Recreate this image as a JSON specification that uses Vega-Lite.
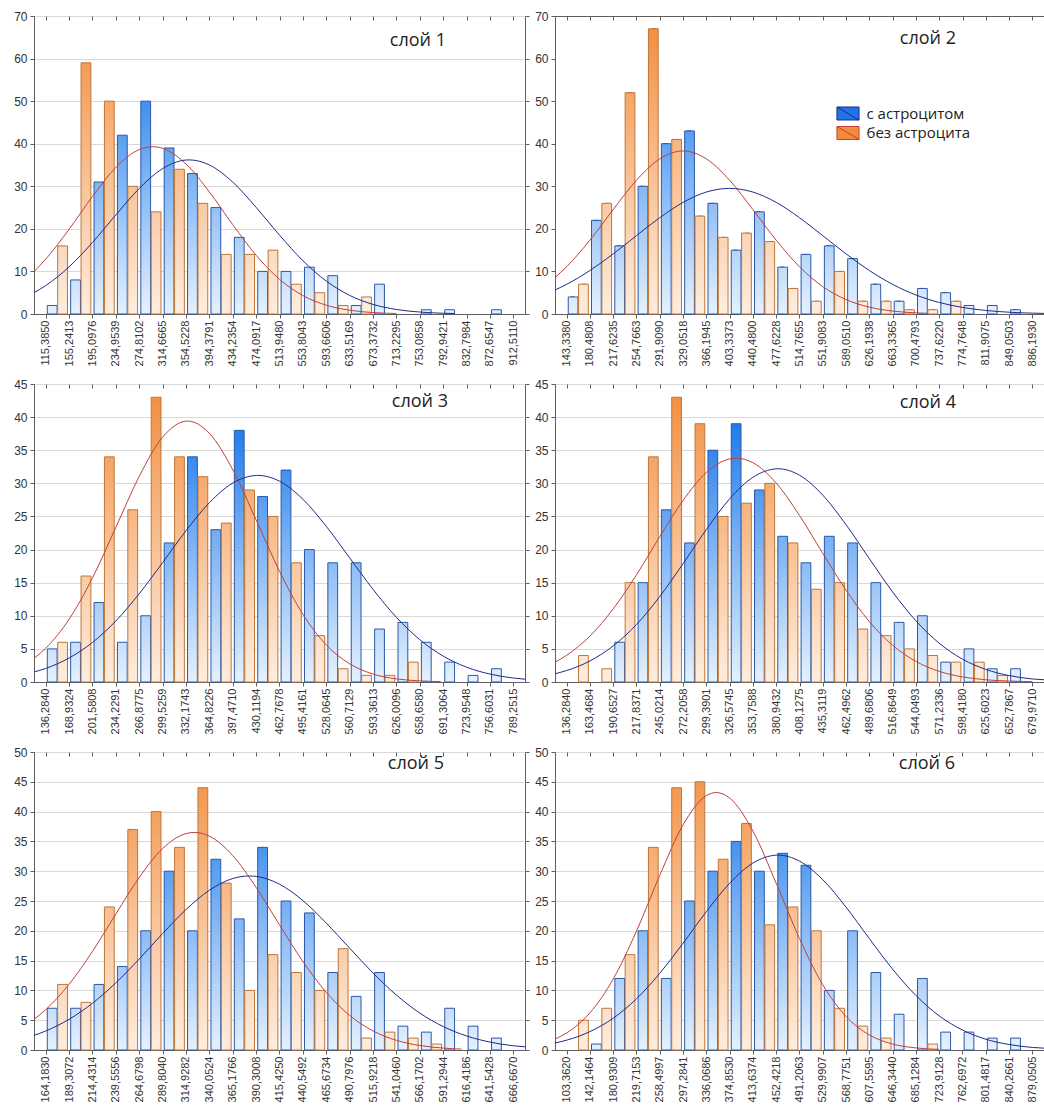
{
"$schema": "https://vega.github.io/schema/vega-lite/v6.json",
"background": "white",
"padding": {"left": 13, "top": 9, "right": 0, "bottom": 0},
"columns": 2,
"spacing": {"row": 70, "column": 30},
"bounds": "flush",
"resolve": {"scale": {"x": "independent", "y": "independent", "fill": "independent", "stroke": "independent"}},
"datasets": {
"bars": [
{"p":1,"g":"b","x0":115.39,"x1":135.31,"n":2},{"p":1,"g":"b","x0":155.24,"x1":175.17,"n":8},{"p":1,"g":"b","x0":195.10,"x1":215.03,"n":31},{"p":1,"g":"b","x0":234.95,"x1":254.88,"n":42},{"p":1,"g":"b","x0":274.81,"x1":294.74,"n":50},{"p":1,"g":"b","x0":314.67,"x1":334.59,"n":39},{"p":1,"g":"b","x0":354.52,"x1":374.45,"n":33},{"p":1,"g":"b","x0":394.38,"x1":414.31,"n":25},{"p":1,"g":"b","x0":434.24,"x1":454.16,"n":18},{"p":1,"g":"b","x0":474.09,"x1":494.02,"n":10},{"p":1,"g":"b","x0":513.95,"x1":533.88,"n":10},{"p":1,"g":"b","x0":553.80,"x1":573.73,"n":11},{"p":1,"g":"b","x0":593.66,"x1":613.59,"n":9},{"p":1,"g":"b","x0":633.52,"x1":653.45,"n":2},{"p":1,"g":"b","x0":673.37,"x1":693.30,"n":7},{"p":1,"g":"b","x0":753.09,"x1":773.01,"n":1},{"p":1,"g":"b","x0":792.94,"x1":812.87,"n":1},{"p":1,"g":"b","x0":872.65,"x1":892.58,"n":1},
{"p":1,"g":"o","x0":135.31,"x1":155.24,"n":16},{"p":1,"g":"o","x0":175.17,"x1":195.10,"n":59},{"p":1,"g":"o","x0":215.03,"x1":234.95,"n":50},{"p":1,"g":"o","x0":254.88,"x1":274.81,"n":30},{"p":1,"g":"o","x0":294.74,"x1":314.67,"n":24},{"p":1,"g":"o","x0":334.59,"x1":354.52,"n":34},{"p":1,"g":"o","x0":374.45,"x1":394.38,"n":26},{"p":1,"g":"o","x0":414.31,"x1":434.24,"n":14},{"p":1,"g":"o","x0":454.16,"x1":474.09,"n":14},{"p":1,"g":"o","x0":494.02,"x1":513.95,"n":15},{"p":1,"g":"o","x0":533.88,"x1":553.80,"n":7},{"p":1,"g":"o","x0":573.73,"x1":593.66,"n":5},{"p":1,"g":"o","x0":613.59,"x1":633.52,"n":2},{"p":1,"g":"o","x0":653.45,"x1":673.37,"n":4},
{"p":2,"g":"b","x0":143.34,"x1":161.91,"n":4},{"p":2,"g":"b","x0":180.48,"x1":199.05,"n":22},{"p":2,"g":"b","x0":217.62,"x1":236.19,"n":16},{"p":2,"g":"b","x0":254.77,"x1":273.34,"n":30},{"p":2,"g":"b","x0":291.91,"x1":310.48,"n":40},{"p":2,"g":"b","x0":329.05,"x1":347.62,"n":43},{"p":2,"g":"b","x0":366.19,"x1":384.77,"n":26},{"p":2,"g":"b","x0":403.34,"x1":421.91,"n":15},{"p":2,"g":"b","x0":440.48,"x1":459.05,"n":24},{"p":2,"g":"b","x0":477.62,"x1":496.19,"n":11},{"p":2,"g":"b","x0":514.77,"x1":533.34,"n":14},{"p":2,"g":"b","x0":551.91,"x1":570.48,"n":16},{"p":2,"g":"b","x0":589.05,"x1":607.62,"n":13},{"p":2,"g":"b","x0":626.19,"x1":644.77,"n":7},{"p":2,"g":"b","x0":663.34,"x1":681.91,"n":3},{"p":2,"g":"b","x0":700.48,"x1":719.05,"n":6},{"p":2,"g":"b","x0":737.62,"x1":756.19,"n":5},{"p":2,"g":"b","x0":774.76,"x1":793.34,"n":2},{"p":2,"g":"b","x0":811.91,"x1":830.48,"n":2},{"p":2,"g":"b","x0":849.05,"x1":867.62,"n":1},
{"p":2,"g":"o","x0":161.91,"x1":180.48,"n":7},{"p":2,"g":"o","x0":199.05,"x1":217.62,"n":26},{"p":2,"g":"o","x0":236.19,"x1":254.77,"n":52},{"p":2,"g":"o","x0":273.34,"x1":291.91,"n":67},{"p":2,"g":"o","x0":310.48,"x1":329.05,"n":41},{"p":2,"g":"o","x0":347.62,"x1":366.19,"n":23},{"p":2,"g":"o","x0":384.77,"x1":403.34,"n":18},{"p":2,"g":"o","x0":421.91,"x1":440.48,"n":19},{"p":2,"g":"o","x0":459.05,"x1":477.62,"n":17},{"p":2,"g":"o","x0":496.19,"x1":514.77,"n":6},{"p":2,"g":"o","x0":533.34,"x1":551.91,"n":3},{"p":2,"g":"o","x0":570.48,"x1":589.05,"n":10},{"p":2,"g":"o","x0":607.62,"x1":626.19,"n":3},{"p":2,"g":"o","x0":644.77,"x1":663.34,"n":3},{"p":2,"g":"o","x0":681.91,"x1":700.48,"n":1},{"p":2,"g":"o","x0":719.05,"x1":737.62,"n":1},{"p":2,"g":"o","x0":756.19,"x1":774.76,"n":3},
{"p":3,"g":"b","x0":136.28,"x1":152.61,"n":5},{"p":3,"g":"b","x0":168.93,"x1":185.26,"n":6},{"p":3,"g":"b","x0":201.58,"x1":217.91,"n":12},{"p":3,"g":"b","x0":234.23,"x1":250.55,"n":6},{"p":3,"g":"b","x0":266.88,"x1":283.20,"n":10},{"p":3,"g":"b","x0":299.53,"x1":315.85,"n":21},{"p":3,"g":"b","x0":332.17,"x1":348.50,"n":34},{"p":3,"g":"b","x0":364.82,"x1":381.15,"n":23},{"p":3,"g":"b","x0":397.47,"x1":413.80,"n":38},{"p":3,"g":"b","x0":430.12,"x1":446.44,"n":28},{"p":3,"g":"b","x0":462.77,"x1":479.09,"n":32},{"p":3,"g":"b","x0":495.42,"x1":511.74,"n":20},{"p":3,"g":"b","x0":528.06,"x1":544.39,"n":18},{"p":3,"g":"b","x0":560.71,"x1":577.04,"n":18},{"p":3,"g":"b","x0":593.36,"x1":609.69,"n":8},{"p":3,"g":"b","x0":626.01,"x1":642.33,"n":9},{"p":3,"g":"b","x0":658.66,"x1":674.98,"n":6},{"p":3,"g":"b","x0":691.31,"x1":707.63,"n":3},{"p":3,"g":"b","x0":723.95,"x1":740.28,"n":1},{"p":3,"g":"b","x0":756.60,"x1":772.93,"n":2},
{"p":3,"g":"o","x0":152.61,"x1":168.93,"n":6},{"p":3,"g":"o","x0":185.26,"x1":201.58,"n":16},{"p":3,"g":"o","x0":217.91,"x1":234.23,"n":34},{"p":3,"g":"o","x0":250.55,"x1":266.88,"n":26},{"p":3,"g":"o","x0":283.20,"x1":299.53,"n":43},{"p":3,"g":"o","x0":315.85,"x1":332.17,"n":34},{"p":3,"g":"o","x0":348.50,"x1":364.82,"n":31},{"p":3,"g":"o","x0":381.15,"x1":397.47,"n":24},{"p":3,"g":"o","x0":413.80,"x1":430.12,"n":29},{"p":3,"g":"o","x0":446.44,"x1":462.77,"n":25},{"p":3,"g":"o","x0":479.09,"x1":495.42,"n":18},{"p":3,"g":"o","x0":511.74,"x1":528.06,"n":7},{"p":3,"g":"o","x0":544.39,"x1":560.71,"n":2},{"p":3,"g":"o","x0":577.04,"x1":593.36,"n":1},{"p":3,"g":"o","x0":609.69,"x1":626.01,"n":1},{"p":3,"g":"o","x0":642.33,"x1":658.66,"n":3},
{"p":4,"g":"b","x0":190.65,"x1":204.24,"n":6},{"p":4,"g":"b","x0":217.84,"x1":231.43,"n":15},{"p":4,"g":"b","x0":245.02,"x1":258.61,"n":26},{"p":4,"g":"b","x0":272.21,"x1":285.80,"n":21},{"p":4,"g":"b","x0":299.39,"x1":312.98,"n":35},{"p":4,"g":"b","x0":326.57,"x1":340.17,"n":39},{"p":4,"g":"b","x0":353.76,"x1":367.35,"n":29},{"p":4,"g":"b","x0":380.94,"x1":394.54,"n":22},{"p":4,"g":"b","x0":408.13,"x1":421.72,"n":18},{"p":4,"g":"b","x0":435.31,"x1":448.90,"n":22},{"p":4,"g":"b","x0":462.50,"x1":476.09,"n":21},{"p":4,"g":"b","x0":489.68,"x1":503.27,"n":15},{"p":4,"g":"b","x0":516.86,"x1":530.46,"n":9},{"p":4,"g":"b","x0":544.05,"x1":557.64,"n":10},{"p":4,"g":"b","x0":571.23,"x1":584.83,"n":3},{"p":4,"g":"b","x0":598.42,"x1":612.01,"n":5},{"p":4,"g":"b","x0":625.60,"x1":639.19,"n":2},{"p":4,"g":"b","x0":652.79,"x1":666.38,"n":2},
{"p":4,"g":"o","x0":149.88,"x1":163.47,"n":4},{"p":4,"g":"o","x0":177.06,"x1":190.65,"n":2},{"p":4,"g":"o","x0":204.24,"x1":217.84,"n":15},{"p":4,"g":"o","x0":231.43,"x1":245.02,"n":34},{"p":4,"g":"o","x0":258.61,"x1":272.21,"n":43},{"p":4,"g":"o","x0":285.80,"x1":299.39,"n":39},{"p":4,"g":"o","x0":312.98,"x1":326.57,"n":25},{"p":4,"g":"o","x0":340.17,"x1":353.76,"n":27},{"p":4,"g":"o","x0":367.35,"x1":380.94,"n":30},{"p":4,"g":"o","x0":394.54,"x1":408.13,"n":21},{"p":4,"g":"o","x0":421.72,"x1":435.31,"n":14},{"p":4,"g":"o","x0":448.90,"x1":462.50,"n":15},{"p":4,"g":"o","x0":476.09,"x1":489.68,"n":8},{"p":4,"g":"o","x0":503.27,"x1":516.86,"n":7},{"p":4,"g":"o","x0":530.46,"x1":544.05,"n":5},{"p":4,"g":"o","x0":557.64,"x1":571.23,"n":4},{"p":4,"g":"o","x0":584.83,"x1":598.42,"n":3},{"p":4,"g":"o","x0":612.01,"x1":625.60,"n":3},{"p":4,"g":"o","x0":639.19,"x1":652.79,"n":1},
{"p":5,"g":"b","x0":164.18,"x1":176.75,"n":7},{"p":5,"g":"b","x0":189.31,"x1":201.87,"n":7},{"p":5,"g":"b","x0":214.43,"x1":226.99,"n":11},{"p":5,"g":"b","x0":239.56,"x1":252.12,"n":14},{"p":5,"g":"b","x0":264.68,"x1":277.24,"n":20},{"p":5,"g":"b","x0":289.80,"x1":302.37,"n":30},{"p":5,"g":"b","x0":314.93,"x1":327.49,"n":20},{"p":5,"g":"b","x0":340.05,"x1":352.61,"n":32},{"p":5,"g":"b","x0":365.18,"x1":377.74,"n":22},{"p":5,"g":"b","x0":390.30,"x1":402.86,"n":34},{"p":5,"g":"b","x0":415.43,"x1":427.99,"n":25},{"p":5,"g":"b","x0":440.55,"x1":453.11,"n":23},{"p":5,"g":"b","x0":465.67,"x1":478.24,"n":13},{"p":5,"g":"b","x0":490.80,"x1":503.36,"n":9},{"p":5,"g":"b","x0":515.92,"x1":528.48,"n":13},{"p":5,"g":"b","x0":541.05,"x1":553.61,"n":4},{"p":5,"g":"b","x0":566.17,"x1":578.73,"n":3},{"p":5,"g":"b","x0":591.29,"x1":603.86,"n":7},{"p":5,"g":"b","x0":616.42,"x1":628.98,"n":4},{"p":5,"g":"b","x0":641.54,"x1":654.10,"n":2},
{"p":5,"g":"o","x0":176.75,"x1":189.31,"n":11},{"p":5,"g":"o","x0":201.87,"x1":214.43,"n":8},{"p":5,"g":"o","x0":226.99,"x1":239.56,"n":24},{"p":5,"g":"o","x0":252.12,"x1":264.68,"n":37},{"p":5,"g":"o","x0":277.24,"x1":289.80,"n":40},{"p":5,"g":"o","x0":302.37,"x1":314.93,"n":34},{"p":5,"g":"o","x0":327.49,"x1":340.05,"n":44},{"p":5,"g":"o","x0":352.61,"x1":365.18,"n":28},{"p":5,"g":"o","x0":377.74,"x1":390.30,"n":10},{"p":5,"g":"o","x0":402.86,"x1":415.43,"n":16},{"p":5,"g":"o","x0":427.99,"x1":440.55,"n":13},{"p":5,"g":"o","x0":453.11,"x1":465.67,"n":10},{"p":5,"g":"o","x0":478.24,"x1":490.80,"n":17},{"p":5,"g":"o","x0":503.36,"x1":515.92,"n":2},{"p":5,"g":"o","x0":528.48,"x1":541.05,"n":3},{"p":5,"g":"o","x0":553.61,"x1":566.17,"n":2},{"p":5,"g":"o","x0":578.73,"x1":591.29,"n":1},
{"p":6,"g":"b","x0":142.15,"x1":161.54,"n":1},{"p":6,"g":"b","x0":180.93,"x1":200.32,"n":12},{"p":6,"g":"b","x0":219.72,"x1":239.11,"n":20},{"p":6,"g":"b","x0":258.50,"x1":277.89,"n":12},{"p":6,"g":"b","x0":297.28,"x1":316.68,"n":25},{"p":6,"g":"b","x0":336.07,"x1":355.46,"n":30},{"p":6,"g":"b","x0":374.85,"x1":394.25,"n":35},{"p":6,"g":"b","x0":413.64,"x1":433.03,"n":30},{"p":6,"g":"b","x0":452.42,"x1":471.81,"n":33},{"p":6,"g":"b","x0":491.21,"x1":510.60,"n":31},{"p":6,"g":"b","x0":529.99,"x1":549.38,"n":10},{"p":6,"g":"b","x0":568.78,"x1":588.17,"n":20},{"p":6,"g":"b","x0":607.56,"x1":626.95,"n":13},{"p":6,"g":"b","x0":646.34,"x1":665.74,"n":6},{"p":6,"g":"b","x0":685.13,"x1":704.52,"n":12},{"p":6,"g":"b","x0":723.91,"x1":743.31,"n":3},{"p":6,"g":"b","x0":762.70,"x1":782.09,"n":3},{"p":6,"g":"b","x0":801.48,"x1":820.87,"n":2},{"p":6,"g":"b","x0":840.27,"x1":859.66,"n":2},
{"p":6,"g":"o","x0":122.75,"x1":142.15,"n":5},{"p":6,"g":"o","x0":161.54,"x1":180.93,"n":7},{"p":6,"g":"o","x0":200.32,"x1":219.72,"n":16},{"p":6,"g":"o","x0":239.11,"x1":258.50,"n":34},{"p":6,"g":"o","x0":277.89,"x1":297.28,"n":44},{"p":6,"g":"o","x0":316.68,"x1":336.07,"n":45},{"p":6,"g":"o","x0":355.46,"x1":374.85,"n":32},{"p":6,"g":"o","x0":394.25,"x1":413.64,"n":38},{"p":6,"g":"o","x0":433.03,"x1":452.42,"n":21},{"p":6,"g":"o","x0":471.81,"x1":491.21,"n":24},{"p":6,"g":"o","x0":510.60,"x1":529.99,"n":20},{"p":6,"g":"o","x0":549.38,"x1":568.78,"n":7},{"p":6,"g":"o","x0":588.17,"x1":607.56,"n":4},{"p":6,"g":"o","x0":626.95,"x1":646.34,"n":2},{"p":6,"g":"o","x0":704.52,"x1":723.91,"n":1}
],
"curves": [
{"p":1,"g":"o","x":95.46,"y":9.96},{"p":1,"g":"o","x":115.39,"y":12.88},{"p":1,"g":"o","x":155.24,"y":19.89},{"p":1,"g":"o","x":195.10,"y":27.61},{"p":1,"g":"o","x":234.95,"y":34.45},{"p":1,"g":"o","x":274.81,"y":38.62},{"p":1,"g":"o","x":297.6,"y":39.3},{"p":1,"g":"o","x":314.67,"y":38.92},{"p":1,"g":"o","x":354.52,"y":35.24},{"p":1,"g":"o","x":394.38,"y":28.69},{"p":1,"g":"o","x":434.24,"y":20.99},{"p":1,"g":"o","x":474.09,"y":13.80},{"p":1,"g":"o","x":513.95,"y":8.15},{"p":1,"g":"o","x":553.80,"y":4.33},{"p":1,"g":"o","x":593.66,"y":2.07},{"p":1,"g":"o","x":633.52,"y":0.89},{"p":1,"g":"o","x":673.37,"y":0.34},{"p":1,"g":"o","x":713.23,"y":0.12},
{"p":1,"g":"b","x":95.46,"y":5.01},{"p":1,"g":"b","x":115.39,"y":6.67},{"p":1,"g":"b","x":155.24,"y":11.07},{"p":1,"g":"b","x":195.10,"y":16.79},{"p":1,"g":"b","x":234.95,"y":23.27},{"p":1,"g":"b","x":274.81,"y":29.49},{"p":1,"g":"b","x":314.67,"y":34.16},{"p":1,"g":"b","x":354.52,"y":36.17},{"p":1,"g":"b","x":360,"y":36.2},{"p":1,"g":"b","x":394.38,"y":35.01},{"p":1,"g":"b","x":434.24,"y":30.98},{"p":1,"g":"b","x":474.09,"y":25.06},{"p":1,"g":"b","x":513.95,"y":18.53},{"p":1,"g":"b","x":553.80,"y":12.52},{"p":1,"g":"b","x":593.66,"y":7.74},{"p":1,"g":"b","x":633.52,"y":4.37},{"p":1,"g":"b","x":673.37,"y":2.26},{"p":1,"g":"b","x":713.23,"y":1.06},{"p":1,"g":"b","x":753.09,"y":0.46},{"p":1,"g":"b","x":792.94,"y":0.18},{"p":1,"g":"b","x":812,"y":0.12},
{"p":2,"g":"o","x":124.77,"y":8.56},{"p":2,"g":"o","x":143.34,"y":11.11},{"p":2,"g":"o","x":180.48,"y":17.35},{"p":2,"g":"o","x":217.62,"y":24.54},{"p":2,"g":"o","x":254.77,"y":31.43},{"p":2,"g":"o","x":291.91,"y":36.45},{"p":2,"g":"o","x":329.05,"y":38.30},{"p":2,"g":"o","x":366.19,"y":36.44},{"p":2,"g":"o","x":403.34,"y":31.41},{"p":2,"g":"o","x":440.48,"y":24.51},{"p":2,"g":"o","x":477.62,"y":17.33},{"p":2,"g":"o","x":514.77,"y":11.09},{"p":2,"g":"o","x":551.91,"y":6.43},{"p":2,"g":"o","x":589.05,"y":3.38},{"p":2,"g":"o","x":626.19,"y":1.61},{"p":2,"g":"o","x":663.34,"y":0.69},{"p":2,"g":"o","x":700.48,"y":0.27},{"p":2,"g":"o","x":720,"y":0.15},
{"p":2,"g":"b","x":124.77,"y":5.63},{"p":2,"g":"b","x":143.34,"y":6.97},{"p":2,"g":"b","x":180.48,"y":10.22},{"p":2,"g":"b","x":217.62,"y":14.12},{"p":2,"g":"b","x":254.77,"y":18.42},{"p":2,"g":"b","x":291.91,"y":22.63},{"p":2,"g":"b","x":329.05,"y":26.22},{"p":2,"g":"b","x":366.19,"y":28.65},{"p":2,"g":"b","x":403.34,"y":29.50},{"p":2,"g":"b","x":440.48,"y":28.64},{"p":2,"g":"b","x":477.62,"y":26.22},{"p":2,"g":"b","x":514.77,"y":22.62},{"p":2,"g":"b","x":551.91,"y":18.40},{"p":2,"g":"b","x":589.05,"y":14.12},{"p":2,"g":"b","x":626.19,"y":10.21},{"p":2,"g":"b","x":663.34,"y":6.96},{"p":2,"g":"b","x":700.48,"y":4.47},{"p":2,"g":"b","x":737.62,"y":2.71},{"p":2,"g":"b","x":774.76,"y":1.55},{"p":2,"g":"b","x":811.91,"y":0.83},{"p":2,"g":"b","x":849.05,"y":0.42},{"p":2,"g":"b","x":886.19,"y":0.20},{"p":2,"g":"b","x":904.76,"y":0.14},
{"p":3,"g":"o","x":119.96,"y":3.59},{"p":3,"g":"o","x":136.28,"y":5.10},{"p":3,"g":"o","x":168.93,"y":9.46},{"p":3,"g":"o","x":201.58,"y":15.71},{"p":3,"g":"o","x":234.23,"y":23.35},{"p":3,"g":"o","x":266.88,"y":31.05},{"p":3,"g":"o","x":299.53,"y":36.97},{"p":3,"g":"o","x":332.17,"y":39.39},{"p":3,"g":"o","x":334.5,"y":39.4},{"p":3,"g":"o","x":364.82,"y":37.56},{"p":3,"g":"o","x":397.47,"y":32.05},{"p":3,"g":"o","x":430.12,"y":24.48},{"p":3,"g":"o","x":462.77,"y":16.73},{"p":3,"g":"o","x":495.42,"y":10.23},{"p":3,"g":"o","x":528.06,"y":5.60},{"p":3,"g":"o","x":560.71,"y":2.75},{"p":3,"g":"o","x":593.36,"y":1.20},{"p":3,"g":"o","x":626.01,"y":0.47},{"p":3,"g":"o","x":658.66,"y":0.17},{"p":3,"g":"o","x":688,"y":0.06},
{"p":3,"g":"b","x":119.96,"y":1.51},{"p":3,"g":"b","x":136.28,"y":2.05},{"p":3,"g":"b","x":168.93,"y":3.62},{"p":3,"g":"b","x":201.58,"y":5.97},{"p":3,"g":"b","x":234.23,"y":9.22},{"p":3,"g":"b","x":266.88,"y":13.33},{"p":3,"g":"b","x":299.53,"y":18.03},{"p":3,"g":"b","x":332.17,"y":22.84},{"p":3,"g":"b","x":364.82,"y":27.07},{"p":3,"g":"b","x":397.47,"y":30.04},{"p":3,"g":"b","x":430.12,"y":31.19},{"p":3,"g":"b","x":432.5,"y":31.2},{"p":3,"g":"b","x":462.77,"y":30.33},{"p":3,"g":"b","x":495.42,"y":27.60},{"p":3,"g":"b","x":528.06,"y":23.51},{"p":3,"g":"b","x":560.71,"y":18.75},{"p":3,"g":"b","x":593.36,"y":13.99},{"p":3,"g":"b","x":626.01,"y":9.77},{"p":3,"g":"b","x":658.66,"y":6.39},{"p":3,"g":"b","x":691.31,"y":3.91},{"p":3,"g":"b","x":723.95,"y":2.24},{"p":3,"g":"b","x":756.60,"y":1.20},{"p":3,"g":"b","x":789.25,"y":0.60},{"p":3,"g":"b","x":805.58,"y":0.42},
{"p":4,"g":"o","x":122.69,"y":2.98},{"p":4,"g":"o","x":136.28,"y":4.03},{"p":4,"g":"o","x":163.47,"y":6.94},{"p":4,"g":"o","x":190.65,"y":11.04},{"p":4,"g":"o","x":217.84,"y":16.19},{"p":4,"g":"o","x":245.02,"y":21.94},{"p":4,"g":"o","x":272.21,"y":27.42},{"p":4,"g":"o","x":299.39,"y":31.64},{"p":4,"g":"o","x":326.57,"y":33.69},{"p":4,"g":"o","x":334.3,"y":33.8},{"p":4,"g":"o","x":353.76,"y":33.11},{"p":4,"g":"o","x":380.94,"y":30.04},{"p":4,"g":"o","x":408.13,"y":25.15},{"p":4,"g":"o","x":435.31,"y":19.43},{"p":4,"g":"o","x":462.50,"y":13.86},{"p":4,"g":"o","x":489.68,"y":9.12},{"p":4,"g":"o","x":516.86,"y":5.54},{"p":4,"g":"o","x":544.05,"y":3.11},{"p":4,"g":"o","x":571.23,"y":1.61},{"p":4,"g":"o","x":598.42,"y":0.77},{"p":4,"g":"o","x":625.60,"y":0.34},{"p":4,"g":"o","x":652.79,"y":0.14},{"p":4,"g":"o","x":679.97,"y":0.05},
{"p":4,"g":"b","x":122.69,"y":1.24},{"p":4,"g":"b","x":136.28,"y":1.73},{"p":4,"g":"b","x":163.47,"y":3.18},{"p":4,"g":"b","x":190.65,"y":5.45},{"p":4,"g":"b","x":217.84,"y":8.69},{"p":4,"g":"b","x":245.02,"y":12.91},{"p":4,"g":"b","x":272.21,"y":17.87},{"p":4,"g":"b","x":299.39,"y":23.03},{"p":4,"g":"b","x":326.57,"y":27.65},{"p":4,"g":"b","x":353.76,"y":30.91},{"p":4,"g":"b","x":380.94,"y":32.19},{"p":4,"g":"b","x":382.9,"y":32.2},{"p":4,"g":"b","x":408.13,"y":31.23},{"p":4,"g":"b","x":435.31,"y":28.22},{"p":4,"g":"b","x":462.50,"y":23.75},{"p":4,"g":"b","x":489.68,"y":18.62},{"p":4,"g":"b","x":516.86,"y":13.60},{"p":4,"g":"b","x":544.05,"y":9.24},{"p":4,"g":"b","x":571.23,"y":5.86},{"p":4,"g":"b","x":598.42,"y":3.45},{"p":4,"g":"b","x":625.60,"y":1.90},{"p":4,"g":"b","x":652.79,"y":0.97},{"p":4,"g":"b","x":679.97,"y":0.46},{"p":4,"g":"b","x":693.56,"y":0.34},
{"p":5,"g":"o","x":151.62,"y":5.14},{"p":5,"g":"o","x":164.18,"y":6.77},{"p":5,"g":"o","x":189.31,"y":11.03},{"p":5,"g":"o","x":214.43,"y":16.54},{"p":5,"g":"o","x":239.56,"y":22.81},{"p":5,"g":"o","x":264.68,"y":28.95},{"p":5,"g":"o","x":289.80,"y":33.80},{"p":5,"g":"o","x":314.93,"y":36.31},{"p":5,"g":"o","x":323.9,"y":36.5},{"p":5,"g":"o","x":340.05,"y":35.88},{"p":5,"g":"o","x":365.18,"y":32.62},{"p":5,"g":"o","x":390.30,"y":27.28},{"p":5,"g":"o","x":415.43,"y":20.99},{"p":5,"g":"o","x":440.55,"y":14.86},{"p":5,"g":"o","x":465.67,"y":9.68},{"p":5,"g":"o","x":490.80,"y":5.80},{"p":5,"g":"o","x":515.92,"y":3.20},{"p":5,"g":"o","x":541.05,"y":1.62},{"p":5,"g":"o","x":566.17,"y":0.76},{"p":5,"g":"o","x":591.29,"y":0.32},{"p":5,"g":"o","x":611,"y":0.15},
{"p":5,"g":"b","x":151.62,"y":2.45},{"p":5,"g":"b","x":164.18,"y":3.19},{"p":5,"g":"b","x":189.31,"y":5.15},{"p":5,"g":"b","x":214.43,"y":7.84},{"p":5,"g":"b","x":239.56,"y":11.27},{"p":5,"g":"b","x":264.68,"y":15.27},{"p":5,"g":"b","x":289.80,"y":19.53},{"p":5,"g":"b","x":314.93,"y":23.56},{"p":5,"g":"b","x":340.05,"y":26.80},{"p":5,"g":"b","x":365.18,"y":28.77},{"p":5,"g":"b","x":383.1,"y":29.2},{"p":5,"g":"b","x":390.30,"y":29.13},{"p":5,"g":"b","x":415.43,"y":27.82},{"p":5,"g":"b","x":440.55,"y":25.07},{"p":5,"g":"b","x":465.67,"y":21.30},{"p":5,"g":"b","x":490.80,"y":17.08},{"p":5,"g":"b","x":515.92,"y":12.92},{"p":5,"g":"b","x":541.05,"y":9.22},{"p":5,"g":"b","x":566.17,"y":6.20},{"p":5,"g":"b","x":591.29,"y":3.94},{"p":5,"g":"b","x":616.42,"y":2.36},{"p":5,"g":"b","x":641.54,"y":1.33},{"p":5,"g":"b","x":666.67,"y":0.71},{"p":5,"g":"b","x":679.23,"y":0.54},
{"p":6,"g":"o","x":83.97,"y":1.84},{"p":6,"g":"o","x":103.36,"y":2.86},{"p":6,"g":"o","x":142.15,"y":6.23},{"p":6,"g":"o","x":180.93,"y":11.91},{"p":6,"g":"o","x":219.72,"y":19.95},{"p":6,"g":"o","x":258.50,"y":29.32},{"p":6,"g":"o","x":297.28,"y":37.78},{"p":6,"g":"o","x":336.07,"y":42.68},{"p":6,"g":"o","x":352.7,"y":43.2},{"p":6,"g":"o","x":374.85,"y":42.28},{"p":6,"g":"o","x":413.64,"y":36.73},{"p":6,"g":"o","x":452.42,"y":27.98},{"p":6,"g":"o","x":491.21,"y":18.69},{"p":6,"g":"o","x":529.99,"y":10.95},{"p":6,"g":"o","x":568.78,"y":5.62},{"p":6,"g":"o","x":607.56,"y":2.53},{"p":6,"g":"o","x":646.34,"y":1.00},{"p":6,"g":"o","x":685.13,"y":0.35},{"p":6,"g":"o","x":723.91,"y":0.10},
{"p":6,"g":"b","x":83.97,"y":1.18},{"p":6,"g":"b","x":103.36,"y":1.65},{"p":6,"g":"b","x":142.15,"y":3.08},{"p":6,"g":"b","x":180.93,"y":5.33},{"p":6,"g":"b","x":219.72,"y":8.59},{"p":6,"g":"b","x":258.50,"y":12.87},{"p":6,"g":"b","x":297.28,"y":17.92},{"p":6,"g":"b","x":336.07,"y":23.22},{"p":6,"g":"b","x":374.85,"y":27.98},{"p":6,"g":"b","x":413.64,"y":31.37},{"p":6,"g":"b","x":452.42,"y":32.69},{"p":6,"g":"b","x":455.2,"y":32.7},{"p":6,"g":"b","x":491.21,"y":31.69},{"p":6,"g":"b","x":529.99,"y":28.57},{"p":6,"g":"b","x":568.78,"y":23.96},{"p":6,"g":"b","x":607.56,"y":18.69},{"p":6,"g":"b","x":646.34,"y":13.55},{"p":6,"g":"b","x":685.13,"y":9.14},{"p":6,"g":"b","x":723.91,"y":5.73},{"p":6,"g":"b","x":762.70,"y":3.35},{"p":6,"g":"b","x":801.48,"y":1.81},{"p":6,"g":"b","x":840.27,"y":0.92},{"p":6,"g":"b","x":879.05,"y":0.43},{"p":6,"g":"b","x":898.44,"y":0.31}
]
},
"concat": [
{
"width": 491, "height": 298,
"title": {"text": "слой 1", "dx": -79, "dy": 44},
"resolve": {"axis": {"x": "independent", "y": "independent"}},
"layer": [
{"data": {"name": "bars"}, "transform": [{"filter": "datum.p == 1 && datum.g == 'b'"}],
 "mark": {"type": "bar", "xOffset": 1.6, "x2Offset": -0.3, "stroke": "#2a58a8", "strokeWidth": 1, "fill": {"expr": "{gradient:'linear',x1:0,y1:0,x2:0,y2:1,stops:[{offset:0,color:'rgb('+round(230-230*datum.n/70)+','+round(241-136*datum.n/70)+','+round(253-21*datum.n/70)+')'},{offset:1,color:'rgb(230,241,253)'}]}"}},
 "encoding": {
  "x": {"field": "x0", "type": "quantitative", "scale": {"domain": [95.457, 932.439], "nice": false, "zero": false}, "axis": {"title": null, "tickCount": 40, "labelOverlap": false, "labelFlush": false, "values": [115.385,155.2413,195.0976,234.9539,274.8102,314.6665,354.5228,394.3791,434.2354,474.0917,513.948,553.8043,593.6606,633.5169,673.3732,713.2295,753.0858,792.9421,832.7984,872.6547,912.511], "labelExpr": "replace(format(datum.value, '.4f'), '.', ',')"}},
  "x2": {"field": "x1"},
  "y": {"field": "n", "type": "quantitative", "scale": {"domain": [0, 70], "nice": false}, "axis": {"title": null, "tickCount": 20, "values": [0,10,20,30,40,50,60,70]}},
  "y2": {"datum": 0}
 }},
{"data": {"name": "bars"}, "transform": [{"filter": "datum.p == 1 && datum.g == 'o'"}],
 "mark": {"type": "bar", "xOffset": 0.3, "x2Offset": -1.6, "stroke": "#bf7638", "strokeWidth": 1, "fill": {"expr": "{gradient:'linear',x1:0,y1:0,x2:0,y2:1,stops:[{offset:0,color:'rgb('+round(253-11*datum.n/70)+','+round(238-98*datum.n/70)+','+round(224-164*datum.n/70)+')'},{offset:1,color:'rgb(253,238,224)'}]}"}},
 "encoding": {
  "x": {"field": "x0", "type": "quantitative", "axis": null},
  "x2": {"field": "x1"},
  "y": {"field": "n", "type": "quantitative", "axis": null},
  "y2": {"datum": 0}
 }},
{"data": {"name": "curves"}, "transform": [{"filter": "datum.p == 1"}],
 "mark": {"type": "line", "interpolate": "monotone", "strokeWidth": 1, "clip": true},
 "encoding": {
  "x": {"field": "x", "type": "quantitative", "axis": {"title": null, "orient": "top", "labels": false, "domain": false, "grid": false, "tickSize": -4, "tickCount": 40, "values": [115.385,155.2413,195.0976,234.9539,274.8102,314.6665,354.5228,394.3791,434.2354,474.0917,513.948,553.8043,593.6606,633.5169,673.3732,713.2295,753.0858,792.9421,832.7984,872.6547,912.511]}},
  "y": {"field": "y", "type": "quantitative", "axis": {"title": null, "orient": "right", "labels": false, "domain": false, "grid": false, "tickSize": 4, "tickCount": 20, "values": [0,10,20,30,40,50,60,70]}},
  "stroke": {"field": "g", "type": "nominal", "scale": {"domain": ["b","o"], "range": ["#1f2a8a","#c0403a"]}, "legend": null}
 }}
]
},
{
"width": 489, "height": 298,
"title": {"text": "слой 2", "dx": -88, "dy": 42},
"resolve": {"axis": {"x": "independent", "y": "independent"}},
"layer": [
{"data": {"name": "bars"}, "transform": [{"filter": "datum.p == 2"}],
 "mark": {"type": "bar", "xOffset": 4, "x2Offset": -4, "strokeWidth": 1},
 "encoding": {
  "x": {"field": "x0", "type": "quantitative", "axis": null},
  "x2": {"field": "x1"},
  "y": {"field": "n", "type": "quantitative", "axis": null},
  "y2": {"datum": 0},
  "fill": {"field": "g", "type": "nominal", "scale": {"domain": ["b","o"], "range": ["#1f74ea","#f58a3d"]}, "legend": {"title": null, "orient": "none", "legendX": 285.5, "legendY": 90, "symbolType": "M-1.7,-1H1.7V1H-1.7Z M-1.7,-1L1.7,1", "symbolSize": 169, "symbolStrokeWidth": 1, "labelFont": "Open Sans", "labelFontSize": 15, "labelColor": "#222222", "labelOffset": 11, "rowPadding": 2.5, "padding": 0, "labelExpr": "datum.value == 'b' ? 'с астроцитом' : 'без астроцита'"}},
  "stroke": {"field": "g", "type": "nominal", "scale": {"domain": ["b","o"], "range": ["#1f2a8a","#c0403a"]}, "legend": {"title": null, "orient": "none", "legendX": 285.5, "legendY": 90, "symbolType": "M-1.7,-1H1.7V1H-1.7Z M-1.7,-1L1.7,1", "symbolSize": 169, "symbolStrokeWidth": 1, "labelFont": "Open Sans", "labelFontSize": 15, "labelColor": "#222222", "labelOffset": 11, "rowPadding": 2.5, "padding": 0, "labelExpr": "datum.value == 'b' ? 'с астроцитом' : 'без астроцита'"}}
 }},
{"data": {"name": "bars"}, "transform": [{"filter": "datum.p == 2 && datum.g == 'b'"}],
 "mark": {"type": "bar", "xOffset": 1.6, "x2Offset": -0.3, "stroke": "#2a58a8", "strokeWidth": 1, "fill": {"expr": "{gradient:'linear',x1:0,y1:0,x2:0,y2:1,stops:[{offset:0,color:'rgb('+round(230-230*datum.n/70)+','+round(241-136*datum.n/70)+','+round(253-21*datum.n/70)+')'},{offset:1,color:'rgb(230,241,253)'}]}"}},
 "encoding": {
  "x": {"field": "x0", "type": "quantitative", "scale": {"domain": [124.767, 904.764], "nice": false, "zero": false}, "axis": {"title": null, "tickCount": 40, "labelOverlap": false, "labelFlush": false, "values": [143.338,180.4808,217.6235,254.7663,291.909,329.0518,366.1945,403.3373,440.48,477.6228,514.7655,551.9083,589.051,626.1938,663.3365,700.4793,737.622,774.7648,811.9075,849.0503,886.193], "labelExpr": "replace(format(datum.value, '.4f'), '.', ',')"}},
  "x2": {"field": "x1"},
  "y": {"field": "n", "type": "quantitative", "scale": {"domain": [0, 70], "nice": false}, "axis": {"title": null, "tickCount": 20, "values": [0,10,20,30,40,50,60,70]}},
  "y2": {"datum": 0}
 }},
{"data": {"name": "bars"}, "transform": [{"filter": "datum.p == 2 && datum.g == 'o'"}],
 "mark": {"type": "bar", "xOffset": 0.3, "x2Offset": -1.6, "stroke": "#bf7638", "strokeWidth": 1, "fill": {"expr": "{gradient:'linear',x1:0,y1:0,x2:0,y2:1,stops:[{offset:0,color:'rgb('+round(253-11*datum.n/70)+','+round(238-98*datum.n/70)+','+round(224-164*datum.n/70)+')'},{offset:1,color:'rgb(253,238,224)'}]}"}},
 "encoding": {
  "x": {"field": "x0", "type": "quantitative", "axis": null},
  "x2": {"field": "x1"},
  "y": {"field": "n", "type": "quantitative", "axis": null},
  "y2": {"datum": 0}
 }},
{"data": {"name": "curves"}, "transform": [{"filter": "datum.p == 2"}],
 "mark": {"type": "line", "interpolate": "monotone", "strokeWidth": 1, "clip": true},
 "encoding": {
  "x": {"field": "x", "type": "quantitative", "axis": {"title": null, "orient": "top", "labels": false, "domain": false, "grid": false, "tickSize": -4, "tickCount": 40, "values": [143.338,180.4808,217.6235,254.7663,291.909,329.0518,366.1945,403.3373,440.48,477.6228,514.7655,551.9083,589.051,626.1938,663.3365,700.4793,737.622,774.7648,811.9075,849.0503,886.193]}},
  "y": {"field": "y", "type": "quantitative", "axis": {"title": null, "orient": "right", "labels": false, "domain": false, "grid": false, "tickSize": 4, "tickCount": 20, "values": [0,10,20,30,40,50,60,70]}},
  "stroke": {"field": "g", "type": "nominal", "scale": {"domain": ["b","o"], "range": ["#1f2a8a","#c0403a"]}, "legend": null}
 }}
]
},
{
"width": 491, "height": 298,
"title": {"text": "слой 3", "dx": -77, "dy": 37},
"resolve": {"axis": {"x": "independent", "y": "independent"}},
"layer": [
{"data": {"name": "bars"}, "transform": [{"filter": "datum.p == 3 && datum.g == 'b'"}],
 "mark": {"type": "bar", "xOffset": 1.6, "x2Offset": -0.3, "stroke": "#2a58a8", "strokeWidth": 1, "fill": {"expr": "{gradient:'linear',x1:0,y1:0,x2:0,y2:1,stops:[{offset:0,color:'rgb('+round(230-230*datum.n/45)+','+round(241-136*datum.n/45)+','+round(253-21*datum.n/45)+')'},{offset:1,color:'rgb(230,241,253)'}]}"}},
 "encoding": {
  "x": {"field": "x0", "type": "quantitative", "scale": {"domain": [119.960, 805.576], "nice": false, "zero": false}, "axis": {"title": null, "tickCount": 40, "labelOverlap": false, "labelFlush": false, "values": [136.284,168.9324,201.5808,234.2291,266.8775,299.5259,332.1743,364.8226,397.471,430.1194,462.7678,495.4161,528.0645,560.7129,593.3613,626.0096,658.658,691.3064,723.9548,756.6031,789.2515], "labelExpr": "replace(format(datum.value, '.4f'), '.', ',')"}},
  "x2": {"field": "x1"},
  "y": {"field": "n", "type": "quantitative", "scale": {"domain": [0, 45], "nice": false}, "axis": {"title": null, "tickCount": 20, "values": [0,5,10,15,20,25,30,35,40,45]}},
  "y2": {"datum": 0}
 }},
{"data": {"name": "bars"}, "transform": [{"filter": "datum.p == 3 && datum.g == 'o'"}],
 "mark": {"type": "bar", "xOffset": 0.3, "x2Offset": -1.6, "stroke": "#bf7638", "strokeWidth": 1, "fill": {"expr": "{gradient:'linear',x1:0,y1:0,x2:0,y2:1,stops:[{offset:0,color:'rgb('+round(253-11*datum.n/45)+','+round(238-98*datum.n/45)+','+round(224-164*datum.n/45)+')'},{offset:1,color:'rgb(253,238,224)'}]}"}},
 "encoding": {
  "x": {"field": "x0", "type": "quantitative", "axis": null},
  "x2": {"field": "x1"},
  "y": {"field": "n", "type": "quantitative", "axis": null},
  "y2": {"datum": 0}
 }},
{"data": {"name": "curves"}, "transform": [{"filter": "datum.p == 3"}],
 "mark": {"type": "line", "interpolate": "monotone", "strokeWidth": 1, "clip": true},
 "encoding": {
  "x": {"field": "x", "type": "quantitative", "axis": {"title": null, "orient": "top", "labels": false, "domain": false, "grid": false, "tickSize": -4, "tickCount": 40, "values": [136.284,168.9324,201.5808,234.2291,266.8775,299.5259,332.1743,364.8226,397.471,430.1194,462.7678,495.4161,528.0645,560.7129,593.3613,626.0096,658.658,691.3064,723.9548,756.6031,789.2515]}},
  "y": {"field": "y", "type": "quantitative", "axis": {"title": null, "orient": "right", "labels": false, "domain": false, "grid": false, "tickSize": 4, "tickCount": 20, "values": [0,5,10,15,20,25,30,35,40,45]}},
  "stroke": {"field": "g", "type": "nominal", "scale": {"domain": ["b","o"], "range": ["#1f2a8a","#c0403a"]}, "legend": null}
 }}
]
},
{
"width": 489, "height": 298,
"title": {"text": "слой 4", "dx": -88, "dy": 38},
"resolve": {"axis": {"x": "independent", "y": "independent"}},
"layer": [
{"data": {"name": "bars"}, "transform": [{"filter": "datum.p == 4 && datum.g == 'b'"}],
 "mark": {"type": "bar", "xOffset": 1.6, "x2Offset": -0.3, "stroke": "#2a58a8", "strokeWidth": 1, "fill": {"expr": "{gradient:'linear',x1:0,y1:0,x2:0,y2:1,stops:[{offset:0,color:'rgb('+round(230-230*datum.n/45)+','+round(241-136*datum.n/45)+','+round(253-21*datum.n/45)+')'},{offset:1,color:'rgb(230,241,253)'}]}"}},
 "encoding": {
  "x": {"field": "x0", "type": "quantitative", "scale": {"domain": [122.692, 693.563], "nice": false, "zero": false}, "axis": {"title": null, "tickCount": 40, "labelOverlap": false, "labelFlush": false, "values": [136.284,163.4684,190.6527,217.8371,245.0214,272.2058,299.3901,326.5745,353.7588,380.9432,408.1275,435.3119,462.4962,489.6806,516.8649,544.0493,571.2336,598.418,625.6023,652.7867,679.971], "labelExpr": "replace(format(datum.value, '.4f'), '.', ',')"}},
  "x2": {"field": "x1"},
  "y": {"field": "n", "type": "quantitative", "scale": {"domain": [0, 45], "nice": false}, "axis": {"title": null, "tickCount": 20, "values": [0,5,10,15,20,25,30,35,40,45]}},
  "y2": {"datum": 0}
 }},
{"data": {"name": "bars"}, "transform": [{"filter": "datum.p == 4 && datum.g == 'o'"}],
 "mark": {"type": "bar", "xOffset": 0.3, "x2Offset": -1.6, "stroke": "#bf7638", "strokeWidth": 1, "fill": {"expr": "{gradient:'linear',x1:0,y1:0,x2:0,y2:1,stops:[{offset:0,color:'rgb('+round(253-11*datum.n/45)+','+round(238-98*datum.n/45)+','+round(224-164*datum.n/45)+')'},{offset:1,color:'rgb(253,238,224)'}]}"}},
 "encoding": {
  "x": {"field": "x0", "type": "quantitative", "axis": null},
  "x2": {"field": "x1"},
  "y": {"field": "n", "type": "quantitative", "axis": null},
  "y2": {"datum": 0}
 }},
{"data": {"name": "curves"}, "transform": [{"filter": "datum.p == 4"}],
 "mark": {"type": "line", "interpolate": "monotone", "strokeWidth": 1, "clip": true},
 "encoding": {
  "x": {"field": "x", "type": "quantitative", "axis": {"title": null, "orient": "top", "labels": false, "domain": false, "grid": false, "tickSize": -4, "tickCount": 40, "values": [136.284,163.4684,190.6527,217.8371,245.0214,272.2058,299.3901,326.5745,353.7588,380.9432,408.1275,435.3119,462.4962,489.6806,516.8649,544.0493,571.2336,598.418,625.6023,652.7867,679.971]}},
  "y": {"field": "y", "type": "quantitative", "axis": {"title": null, "orient": "right", "labels": false, "domain": false, "grid": false, "tickSize": 4, "tickCount": 20, "values": [0,5,10,15,20,25,30,35,40,45]}},
  "stroke": {"field": "g", "type": "nominal", "scale": {"domain": ["b","o"], "range": ["#1f2a8a","#c0403a"]}, "legend": null}
 }}
]
},
{
"width": 491, "height": 298,
"title": {"text": "слой 5", "dx": -81, "dy": 31},
"resolve": {"axis": {"x": "independent", "y": "independent"}},
"layer": [
{"data": {"name": "bars"}, "transform": [{"filter": "datum.p == 5 && datum.g == 'b'"}],
 "mark": {"type": "bar", "xOffset": 1.6, "x2Offset": -0.3, "stroke": "#2a58a8", "strokeWidth": 1, "fill": {"expr": "{gradient:'linear',x1:0,y1:0,x2:0,y2:1,stops:[{offset:0,color:'rgb('+round(230-230*datum.n/50)+','+round(241-136*datum.n/50)+','+round(253-21*datum.n/50)+')'},{offset:1,color:'rgb(230,241,253)'}]}"}},
 "encoding": {
  "x": {"field": "x0", "type": "quantitative", "scale": {"domain": [151.621, 679.229], "nice": false, "zero": false}, "axis": {"title": null, "tickCount": 40, "labelOverlap": false, "labelFlush": false, "values": [164.183,189.3072,214.4314,239.5556,264.6798,289.804,314.9282,340.0524,365.1766,390.3008,415.425,440.5492,465.6734,490.7976,515.9218,541.046,566.1702,591.2944,616.4186,641.5428,666.667], "labelExpr": "replace(format(datum.value, '.4f'), '.', ',')"}},
  "x2": {"field": "x1"},
  "y": {"field": "n", "type": "quantitative", "scale": {"domain": [0, 50], "nice": false}, "axis": {"title": null, "tickCount": 20, "values": [0,5,10,15,20,25,30,35,40,45,50]}},
  "y2": {"datum": 0}
 }},
{"data": {"name": "bars"}, "transform": [{"filter": "datum.p == 5 && datum.g == 'o'"}],
 "mark": {"type": "bar", "xOffset": 0.3, "x2Offset": -1.6, "stroke": "#bf7638", "strokeWidth": 1, "fill": {"expr": "{gradient:'linear',x1:0,y1:0,x2:0,y2:1,stops:[{offset:0,color:'rgb('+round(253-11*datum.n/50)+','+round(238-98*datum.n/50)+','+round(224-164*datum.n/50)+')'},{offset:1,color:'rgb(253,238,224)'}]}"}},
 "encoding": {
  "x": {"field": "x0", "type": "quantitative", "axis": null},
  "x2": {"field": "x1"},
  "y": {"field": "n", "type": "quantitative", "axis": null},
  "y2": {"datum": 0}
 }},
{"data": {"name": "curves"}, "transform": [{"filter": "datum.p == 5"}],
 "mark": {"type": "line", "interpolate": "monotone", "strokeWidth": 1, "clip": true},
 "encoding": {
  "x": {"field": "x", "type": "quantitative", "axis": {"title": null, "orient": "top", "labels": false, "domain": false, "grid": false, "tickSize": -4, "tickCount": 40, "values": [164.183,189.3072,214.4314,239.5556,264.6798,289.804,314.9282,340.0524,365.1766,390.3008,415.425,440.5492,465.6734,490.7976,515.9218,541.046,566.1702,591.2944,616.4186,641.5428,666.667]}},
  "y": {"field": "y", "type": "quantitative", "axis": {"title": null, "orient": "right", "labels": false, "domain": false, "grid": false, "tickSize": 4, "tickCount": 20, "values": [0,5,10,15,20,25,30,35,40,45,50]}},
  "stroke": {"field": "g", "type": "nominal", "scale": {"domain": ["b","o"], "range": ["#1f2a8a","#c0403a"]}, "legend": null}
 }}
]
},
{
"width": 489, "height": 298,
"title": {"text": "слой 6", "dx": -89, "dy": 31},
"resolve": {"axis": {"x": "independent", "y": "independent"}},
"layer": [
{"data": {"name": "bars"}, "transform": [{"filter": "datum.p == 6 && datum.g == 'b'"}],
 "mark": {"type": "bar", "xOffset": 1.6, "x2Offset": -0.3, "stroke": "#2a58a8", "strokeWidth": 1, "fill": {"expr": "{gradient:'linear',x1:0,y1:0,x2:0,y2:1,stops:[{offset:0,color:'rgb('+round(230-230*datum.n/50)+','+round(241-136*datum.n/50)+','+round(253-21*datum.n/50)+')'},{offset:1,color:'rgb(230,241,253)'}]}"}},
 "encoding": {
  "x": {"field": "x0", "type": "quantitative", "scale": {"domain": [83.970, 898.443], "nice": false, "zero": false}, "axis": {"title": null, "tickCount": 40, "labelOverlap": false, "labelFlush": false, "values": [103.362,142.1464,180.9309,219.7153,258.4997,297.2841,336.0686,374.853,413.6374,452.4218,491.2063,529.9907,568.7751,607.5595,646.344,685.1284,723.9128,762.6972,801.4817,840.2661,879.0505], "labelExpr": "replace(format(datum.value, '.4f'), '.', ',')"}},
  "x2": {"field": "x1"},
  "y": {"field": "n", "type": "quantitative", "scale": {"domain": [0, 50], "nice": false}, "axis": {"title": null, "tickCount": 20, "values": [0,5,10,15,20,25,30,35,40,45,50]}},
  "y2": {"datum": 0}
 }},
{"data": {"name": "bars"}, "transform": [{"filter": "datum.p == 6 && datum.g == 'o'"}],
 "mark": {"type": "bar", "xOffset": 0.3, "x2Offset": -1.6, "stroke": "#bf7638", "strokeWidth": 1, "fill": {"expr": "{gradient:'linear',x1:0,y1:0,x2:0,y2:1,stops:[{offset:0,color:'rgb('+round(253-11*datum.n/50)+','+round(238-98*datum.n/50)+','+round(224-164*datum.n/50)+')'},{offset:1,color:'rgb(253,238,224)'}]}"}},
 "encoding": {
  "x": {"field": "x0", "type": "quantitative", "axis": null},
  "x2": {"field": "x1"},
  "y": {"field": "n", "type": "quantitative", "axis": null},
  "y2": {"datum": 0}
 }},
{"data": {"name": "curves"}, "transform": [{"filter": "datum.p == 6"}],
 "mark": {"type": "line", "interpolate": "monotone", "strokeWidth": 1, "clip": true},
 "encoding": {
  "x": {"field": "x", "type": "quantitative", "axis": {"title": null, "orient": "top", "labels": false, "domain": false, "grid": false, "tickSize": -4, "tickCount": 40, "values": [103.362,142.1464,180.9309,219.7153,258.4997,297.2841,336.0686,374.853,413.6374,452.4218,491.2063,529.9907,568.7751,607.5595,646.344,685.1284,723.9128,762.6972,801.4817,840.2661,879.0505]}},
  "y": {"field": "y", "type": "quantitative", "axis": {"title": null, "orient": "right", "labels": false, "domain": false, "grid": false, "tickSize": 4, "tickCount": 20, "values": [0,5,10,15,20,25,30,35,40,45,50]}},
  "stroke": {"field": "g", "type": "nominal", "scale": {"domain": ["b","o"], "range": ["#1f2a8a","#c0403a"]}, "legend": null}
 }}
]
}
],
"config": {
 "view": {"stroke": "#5e5e5e"},
 "axis": {"labelFont": "Liberation Sans", "labelColor": "#333333", "domainColor": "#5e5e5e", "tickColor": "#5e5e5e", "tickSize": 4},
 "axisX": {"labelAngle": -90, "labelFontSize": 11, "grid": false, "labelPadding": 2, "labelOverlap": false, "labelFlush": false},
 "axisY": {"labelFontSize": 12, "grid": true, "gridColor": "#d9d9d9", "labelPadding": 3},
 "title": {"font": "Open Sans", "fontSize": 18, "fontWeight": "normal", "color": "#222222", "anchor": "end", "frame": "group", "offset": 0, "baseline": "middle", "orient": "top"}
}
}
